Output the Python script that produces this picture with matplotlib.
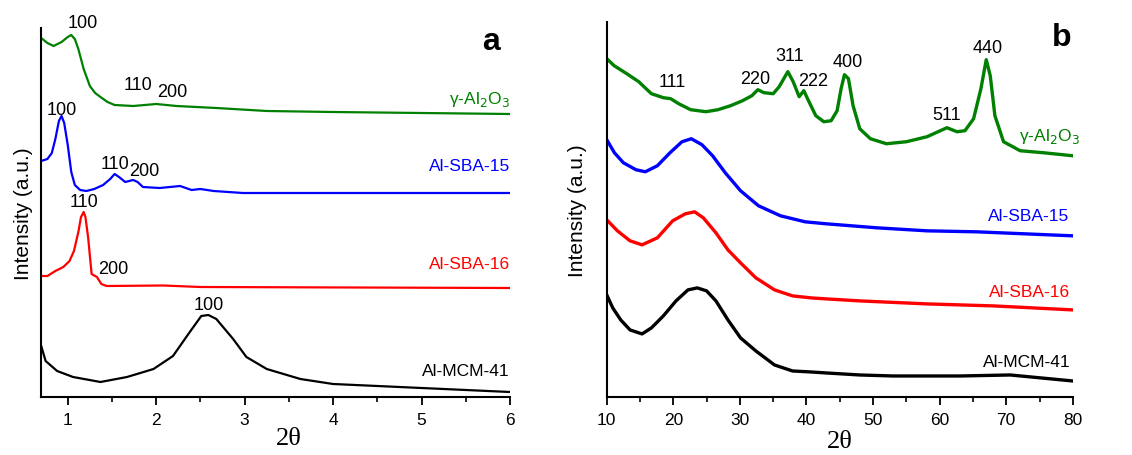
import numpy as np
from matplotlib import pyplot as plt

plt.rcParams['font.family'] = ['Liberation Sans', 'DejaVu Sans']

# ---- panel a: low angle ----
xa_g = [0.7, 0.77, 0.84, 0.93, 1.0, 1.04, 1.08, 1.12, 1.18, 1.25, 1.31, 1.37, 1.45, 1.53, 1.74, 2.0, 2.23, 2.68, 3.25, 4.0, 6.0]
ya_g = [359, 354, 351, 355, 360, 362, 358, 348, 328, 311, 304, 300, 295, 292, 291, 293, 291, 289, 286, 285, 283]

xa_b = [0.7, 0.77, 0.82, 0.86, 0.9, 0.93, 0.96, 1.0, 1.04, 1.08, 1.14, 1.21, 1.3, 1.4, 1.48, 1.53, 1.58, 1.65, 1.74, 1.79, 1.85, 2.04, 2.27, 2.4, 2.5, 2.65, 2.98, 6.0]
ya_b = [236, 238, 244, 258, 276, 281, 274, 252, 225, 212, 207, 206, 208, 212, 218, 223, 220, 215, 217, 215, 210, 209, 211, 207, 208, 206, 204, 204]

xa_r = [0.7, 0.77, 0.86, 0.95, 1.02, 1.07, 1.12, 1.15, 1.18, 1.2, 1.23, 1.27, 1.33, 1.38, 1.44, 2.08, 2.5, 6.0]
ya_r = [121, 121, 126, 130, 136, 146, 165, 180, 185, 180, 160, 123, 120, 113, 111, 111.5, 110, 109]

xa_k = [0.7, 0.75, 0.88, 1.06, 1.37, 1.67, 1.97, 2.19, 2.38, 2.51, 2.59, 2.68, 2.87, 3.02, 3.25, 3.63, 4.0, 4.75, 6.0]
ya_k = [51, 36, 26, 20, 15, 20, 28, 41, 65, 81, 82, 78, 58, 40, 28, 18, 13, 10, 5]

# ---- panel b: wide angle ----
xb_g = [10, 11.1, 13.0, 14.8, 16.7, 18.5, 19.6, 20.8, 22.6, 24.9, 26.7, 28.6, 30.4, 31.8, 32.7, 33.6, 35.0, 35.9,
        37.2, 38.0, 38.9, 39.6, 40.3, 41.4, 42.6, 43.7, 44.6, 45.2, 45.7, 46.3, 47, 48, 49.6, 52, 55, 58.1, 60.1,
        61.1, 62.6, 63.8, 65.1, 66.2, 67, 67.6, 68.3, 69.6, 72.1, 75.6, 80]
yb_g = [338, 331, 323, 315, 303, 299, 298, 293, 287, 285, 287, 291, 296, 301, 307, 304, 303, 310,
        325, 315, 300, 306, 296, 281, 275, 276, 286, 308, 322, 318, 291, 268, 258, 253, 255, 260, 266,
        269, 265, 266, 278, 308, 337, 321, 281, 255, 246, 244, 241]

xb_b = [10, 11.15, 12.5, 14.4, 15.8, 17.6, 19.5, 21.3, 22.7, 24.3, 25.9, 27.8, 30.1, 32.8, 36.1, 39.8, 43.0, 50.6, 58.1, 65.6, 80]
yb_b = [257, 244, 234, 227, 225, 231, 244, 255, 258, 252, 241, 224, 206, 191, 181, 175, 173, 169, 166, 165, 161]

xb_r = [10, 11.6, 13.5, 15.3, 17.6, 19.9, 21.8, 23.2, 24.5, 26.4, 28.2, 30.1, 32.4, 35.2, 37.9, 40.7, 43.0, 48, 58.1, 68.1, 80]
yb_r = [177, 166, 156, 152, 159, 176, 183, 185, 179, 164, 147, 134, 119, 107, 101, 99, 98, 96, 93, 91, 87]

xb_k = [10, 10.9, 12.1, 13.5, 15.3, 16.7, 18.5, 20.4, 22.2, 23.6, 25.0, 26.4, 28.2, 30.1, 32.4, 35.2, 37.9, 40.7, 43.0, 48, 53, 63.1, 70.6, 80]
yb_k = [102, 89, 77, 67, 63, 69, 81, 96, 107, 109, 106, 96, 77, 59, 46, 32, 26, 25, 24, 22, 21, 21, 22, 16]

names = ['γ-Al$_2$O$_3$', 'Al-SBA-15', 'Al-SBA-16', 'Al-MCM-41']
colors = ['#008000', '#0000ff', '#ff0000', 'black']

# peak labels (text, x, y)
peaks_a = [('100', 1.17, 375), ('110', 1.8, 313), ('200', 2.18, 306),
           ('100', 0.93, 288), ('110', 1.53, 233), ('200', 1.87, 226),
           ('110', 1.18, 195), ('200', 1.52, 128),
           ('100', 2.59, 92)]
name_y_a = [299, 231, 133, 26]

peaks_b = [('111', 19.9, 315), ('220', 32.3, 318), ('311', 37.5, 341), ('222', 41.0, 316),
           ('400', 46.2, 335), ('511', 61.1, 282), ('440', 67.2, 349)]
name_xy_b = [(81.0, 261), (79.5, 181), (79.6, 105), (79.6, 35)]

fig = plt.figure(figsize=(11.32, 4.56), dpi=100)
ax1 = fig.add_axes([0.0364, 0.1272, 0.4141, 0.8092])
ax2 = fig.add_axes([0.536, 0.1272, 0.4117, 0.8232])


def style(ax, ypad):
    for s in ['top', 'right']:
        ax.spines[s].set_visible(False)
    for s in ['left', 'bottom']:
        ax.spines[s].set_linewidth(1.5)
    ax.set_yticks([])
    ax.tick_params(axis='x', direction='out', length=6, width=1.3, labelsize=12.5, pad=5)
    ax.tick_params(axis='x', which='minor', direction='out', length=3.5, width=1.2)
    ax.set_xlabel('2θ', family='Liberation Serif', fontsize=19, labelpad=2)
    ax.set_ylabel('Intensity (a.u.)', fontsize=15, labelpad=ypad)


# panel a
for xs, ys, c in zip([xa_g, xa_b, xa_r, xa_k], [ya_g, ya_b, ya_r, ya_k], colors):
    ax1.plot(xs, ys, color=c, lw=1.6)
ax1.set_xlim(0.7, 6)
ax1.set_ylim(0, 369)
ax1.set_xticks([1, 2, 3, 4, 5, 6])
ax1.set_xticks(np.arange(1.5, 6, 1.0), minor=True)
style(ax1, 6)
ax1.xaxis.set_label_coords(0.529, -0.08)
ax1.xaxis.label.set_va('top')
for t, x, y in peaks_a:
    ax1.text(x, y, t, fontsize=13, ha='center', va='center')
for n, y, c in zip(names, name_y_a, colors):
    ax1.text(6, y, n, color=c, fontsize=12.5, ha='right', va='center')
ax1.text(5.78, 356, 'a', fontsize=23, fontweight='bold', ha='center', va='center')

# panel b
for xs, ys, c in zip([xb_g, xb_b, xb_r, xb_k], [yb_g, yb_b, yb_r, yb_k], colors):
    ax2.plot(xs, ys, color=c, lw=2.4)
ax2.set_xlim(10, 80)
ax2.set_ylim(0, 375)
ax2.set_xticks(np.arange(10, 81, 10))
ax2.set_xticks(np.arange(15, 80, 10), minor=True)
style(ax2, 14)
for t, x, y in peaks_b:
    ax2.text(x, y, t, fontsize=13, ha='center', va='center')
for n, (x, y), c in zip(names, name_xy_b, colors):
    ax2.text(x, y, n, color=c, fontsize=12.5, ha='right', va='center')
ax2.text(78.4, 360, 'b', fontsize=23, fontweight='bold', ha='center', va='center')

fig.savefig('out.png', dpi=100)
